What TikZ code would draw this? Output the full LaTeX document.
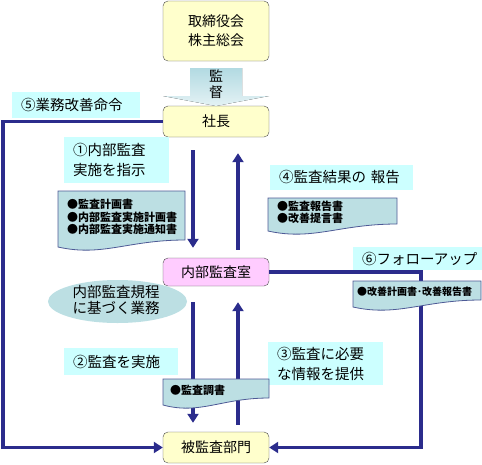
\documentclass[tikz,border=0pt]{standalone}
\usepackage{fontspec}
\setmainfont{Noto Sans CJK JP}
\usetikzlibrary{arrows.meta,shapes.geometric}
\definecolor{boxyellow}{HTML}{FFFFCC}
\definecolor{boxpink}{HTML}{FFCCFF}
\definecolor{tagcyan}{HTML}{CCFFFF}
\definecolor{docfill}{HTML}{BCDFE3}
\definecolor{docedge}{HTML}{4E5A96}
\definecolor{flowblue}{HTML}{2B2C8C}
\definecolor{supblue}{HTML}{B2DAE2}

\begin{document}
\begin{tikzpicture}[x=1pt,y=-1pt,>={Triangle[width=11pt,length=9pt]}]
 \tikzstyle{unit} = [draw=gray!60!black, rounded corners=5pt, minimum width=106pt,
   font=\fontsize{14}{19}\selectfont, align=center]
 \tikzstyle{tag} = [fill=tagcyan, inner xsep=9pt, inner ysep=0pt, align=left,
   font=\fontsize{14.5}{20}\selectfont]
 \tikzstyle{flow} = [draw=flowblue, line width=3.5pt]
 \tikzstyle{doctext} = [align=left, inner sep=0pt, font=\fontsize{11}{12.5}\selectfont\bfseries]
 \newcommand{\docbox}[7]{%
  \filldraw[fill=docfill, draw=docedge, line width=0.8pt] (#2,#3) -- ++(#4,0) -- ++(0,#5-9)
    .. controls +(-0.45*#4,0) and +(0.35*#4,10) .. ++(-#4,7) -- cycle;
  \node[doctext, anchor=west] (#1) at (#2+#6,#3+0.5*#5-3) {#7};}

 \useasboundingbox (0,0) rectangle (482,464);

% Boxes
 \node[unit, fill=boxyellow, minimum height=60pt] (board) at (216,31) {取締役会\\株主総会};
 \node[unit, fill=boxyellow, minimum height=31pt] (pres) at (216,121.5) {社長};
 \node[unit, fill=boxpink, minimum height=28pt] (audit) at (216,272) {内部監査室};
 \node[unit, fill=boxyellow, minimum height=31pt] (dept) at (216,447.5) {被監査部門};

% Supervision arrow
 \fill[top color=supblue, bottom color=supblue!35] (190,68) -- (242,68) -- (242,96) -- (269,96)
   -- (216,106) -- (163,96) -- (190,96) -- cycle;
 \node[font=\fontsize{14}{16}\selectfont, align=center, inner sep=0pt] (sup) at (216,84) {監\\督};

% Labels
 \node[tag, minimum width=128pt, minimum height=26pt, text width=110pt] (order) at (76,105) {⑤業務改善命令};
 \node[tag, minimum width=105pt, minimum height=46pt, text width=87pt] (instr) at (116.5,160) {①内部監査\\実施を指示};
 \node[tag, minimum width=143pt, minimum height=25pt, text width=125pt] (result) at (341.5,177.5) {④監査結果の 報告};
 \node[tag, minimum width=129pt, minimum height=23pt, text width=111pt] (follow) at (417.5,258.5) {⑥フォローアップ};
 \node[tag, minimum width=114pt, minimum height=27pt, text width=96pt] (exec) at (121,361.5) {②監査を実施};
 \node[tag, minimum width=115pt, minimum height=43pt, text width=97pt] (provide) at (325.5,363.5) {③監査に必要\\な情報を提供};

% Rules
 \fill[docfill] (117.5,301.5) ellipse (69.5 and 21.5);
 \node[align=left, inner sep=0pt, font=\fontsize{14.5}{16}\selectfont] (rule) at (116,299.5) {内部監査規程\\に基づく業務};

% Flows
 \draw[flow,->,shorten <=13pt,shorten >=10pt] ([xshift=-23pt]pres.south) -- ([xshift=-23pt]audit.north);
 \draw[flow,->,shorten <=8pt,shorten >=16pt] ([xshift=22pt]audit.north) -- ([xshift=22pt]pres.south);
 \draw[flow,->,shorten <=16pt,shorten >=9pt] ([xshift=-23pt]audit.south) -- ([xshift=-23pt]dept.north);
 \draw[flow,->,shorten <=7pt,shorten >=16pt] ([xshift=22pt]dept.north) -- ([xshift=22pt]audit.south);
 \draw[flow,->] (pres.west) -- ++(-160,0) |- (dept.west);
 \draw[flow,->] (audit.east) -- ++(152,0) |- (dept.east);

% Documents
 \docbox{plandoc}{58}{191}{127}{58}{9}{●監査計画書\\●内部監査実施計画書\\●内部監査実施通知書}
 \docbox{reportdoc}{268}{198}{129}{35}{9}{●監査報告書\\●改善提言書}
 \docbox{followdoc}{353}{281}{128}{28}{4}{\fontsize{10}{12}\selectfont●改善計画書･改善報告書}
 \docbox{workdoc}{163}{379}{106}{28}{7}{●監査調書}
\end{tikzpicture}
\end{document}
